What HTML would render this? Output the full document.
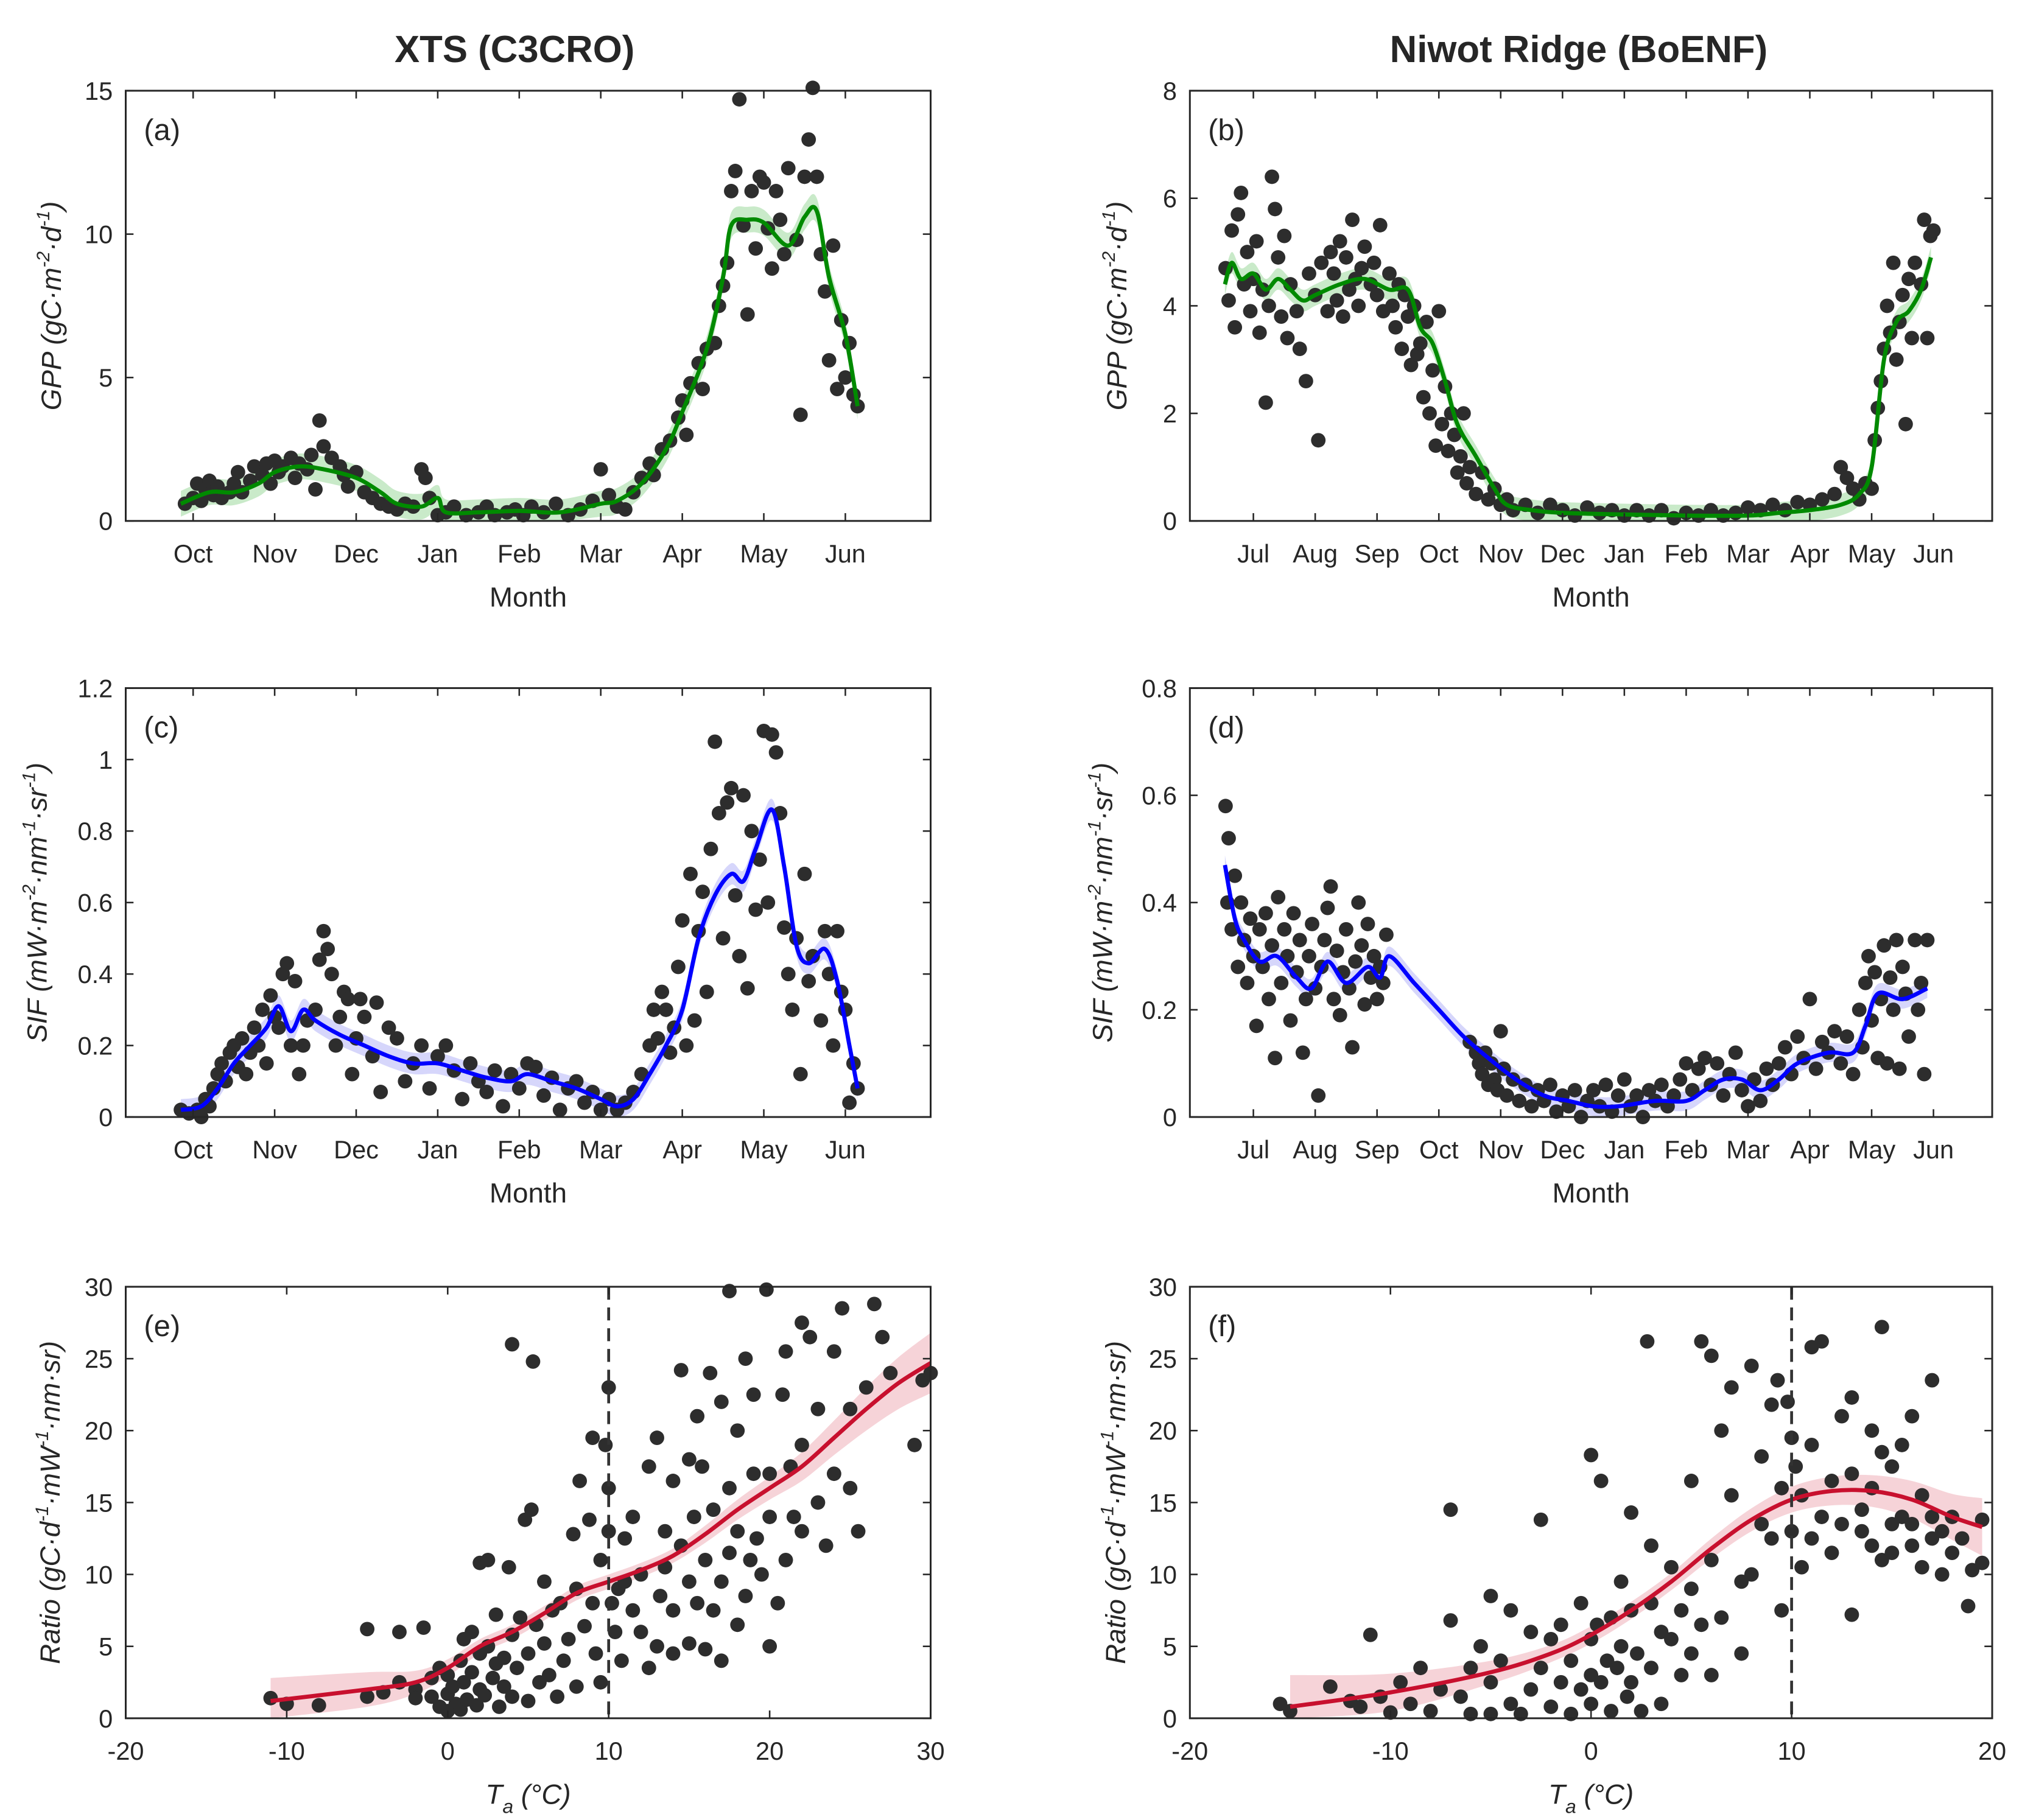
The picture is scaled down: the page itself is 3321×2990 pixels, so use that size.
<!DOCTYPE html>
<html><head><meta charset="utf-8"><style>
html,body{margin:0;padding:0;background:#fff}
svg{display:block}
text{font-family:"Liberation Sans",sans-serif;fill:#262626}
</style></head><body>
<svg id="fig" xmlns="http://www.w3.org/2000/svg" width="3321" height="2990" viewBox="0 0 1560 1404.5"></svg>
<script>
// ---------- DATA ----------
const monthsA = ["Oct","Nov","Dec","Jan","Feb","Mar","Apr","May","Jun"];
const monthsB = ["Jul","Aug","Sep","Oct","Nov","Dec","Jan","Feb","Mar","Apr","May","Jun"];
const yTicksA = [0,5,10,15];
const yTicksB = [0,2,4,6,8];
const yTicksC = [0,0.2,0.4,0.6,0.8,1,1.2];
const yTicksD = [0,0.2,0.4,0.6,0.8];
const yTicksEF = [0,5,10,15,20,25,30];
const xTicksE = [-20,-10,0,10,20,30];
const xTicksF = [-20,-10,0,10,20];

const lineA = [[-0.15,0.6],[0.2,1.0],[0.5,1.0],[0.8,1.3],[1.0,1.7],[1.3,1.9],[1.6,1.8],[2.0,1.5],[2.3,1.0],[2.5,0.6],[2.8,0.5],[3.0,0.8],[3.1,0.3],[3.5,0.3],[4.0,0.35],[4.5,0.3],[5.0,0.6],[5.2,0.7],[5.5,1.3],[5.8,2.5],[6.0,3.8],[6.3,6.0],[6.5,8.5],[6.6,10.3],[6.8,10.5],[7.0,10.4],[7.3,9.6],[7.5,10.6],[7.65,10.8],[7.8,8.5],[8.0,6.5],[8.15,4.0]];
const ptsA = [[-0.1,0.6],[0,0.8],[0.05,1.3],[0.1,0.7],[0.15,1.1],[0.2,1.4],[0.25,0.9],[0.3,1.2],[0.35,0.8],[0.45,1.0],[0.5,1.3],[0.55,1.7],[0.6,1.0],[0.7,1.4],[0.75,1.9],[0.85,1.6],[0.9,2.0],[0.95,1.3],[1.0,2.1],[1.05,1.7],[1.1,1.9],[1.2,2.2],[1.25,1.5],[1.3,2.0],[1.4,1.8],[1.45,2.3],[1.5,1.1],[1.55,3.5],[1.6,2.6],[1.7,2.2],[1.8,1.9],[1.85,1.6],[1.9,1.2],[2.0,1.7],[2.1,1.0],[2.2,0.8],[2.3,0.6],[2.4,0.5],[2.5,0.4],[2.6,0.6],[2.7,0.5],[2.8,1.8],[2.85,1.5],[2.9,0.8],[3.0,0.2],[3.1,0.3],[3.2,0.5],[3.35,0.2],[3.5,0.3],[3.6,0.5],[3.7,0.2],[3.85,0.3],[3.95,0.4],[4.05,0.2],[4.15,0.5],[4.3,0.3],[4.45,0.6],[4.6,0.2],[4.75,0.4],[4.9,0.7],[5.0,1.8],[5.1,0.9],[5.2,0.5],[5.3,0.4],[5.4,1.0],[5.5,1.5],[5.6,2.0],[5.65,1.6],[5.75,2.5],[5.85,2.8],[5.95,3.6],[6.0,4.2],[6.05,3.0],[6.1,4.8],[6.2,5.5],[6.25,4.6],[6.3,6.0],[6.4,6.2],[6.45,7.5],[6.5,8.2],[6.55,9.0],[6.6,11.5],[6.65,12.2],[6.7,14.7],[6.75,10.3],[6.8,7.2],[6.85,11.5],[6.9,9.5],[6.95,12.0],[7.0,11.8],[7.05,10.2],[7.1,8.8],[7.15,11.5],[7.2,10.5],[7.25,9.3],[7.3,12.3],[7.4,9.8],[7.45,3.7],[7.5,12.0],[7.55,13.3],[7.6,15.1],[7.65,12.0],[7.7,9.3],[7.75,8.0],[7.8,5.6],[7.85,9.6],[7.9,4.6],[7.95,7.0],[8.0,5.0],[8.05,6.2],[8.1,4.4],[8.15,4.0]];

const lineB = [[-0.46,4.4],[-0.35,4.8],[-0.2,4.5],[0,4.6],[0.2,4.3],[0.4,4.5],[0.6,4.3],[0.8,4.1],[1.0,4.2],[1.4,4.4],[1.8,4.5],[2.2,4.3],[2.5,4.3],[2.7,3.6],[2.9,3.3],[3.1,2.6],[3.3,1.8],[3.6,1.2],[3.9,0.6],[4.1,0.3],[4.5,0.2],[5,0.15],[6,0.12],[7,0.1],[8,0.1],[8.5,0.15],[9,0.2],[9.5,0.3],[9.8,0.5],[10,1.0],[10.2,3.0],[10.4,3.7],[10.6,3.9],[10.8,4.3],[10.96,4.9]];
const ptsB = [[-0.45,4.7],[-0.4,4.1],[-0.35,5.4],[-0.3,3.6],[-0.25,5.7],[-0.2,6.1],[-0.15,4.4],[-0.1,5.0],[-0.05,3.9],[0,4.5],[0.05,5.2],[0.1,3.5],[0.15,4.3],[0.2,2.2],[0.25,4.0],[0.3,6.4],[0.35,5.8],[0.4,4.9],[0.45,3.8],[0.5,5.3],[0.55,3.4],[0.6,4.4],[0.7,3.9],[0.75,3.2],[0.85,2.6],[0.9,4.6],[1.0,4.2],[1.05,1.5],[1.1,4.8],[1.2,3.9],[1.25,5.0],[1.3,4.6],[1.35,4.1],[1.4,5.2],[1.45,3.8],[1.5,4.9],[1.55,4.3],[1.6,5.6],[1.65,4.5],[1.7,4.0],[1.75,4.7],[1.8,5.1],[1.9,4.4],[1.95,4.8],[2.0,4.2],[2.05,5.5],[2.1,3.9],[2.2,4.6],[2.25,4.0],[2.3,3.6],[2.35,4.4],[2.4,3.2],[2.45,4.2],[2.5,3.8],[2.55,2.9],[2.6,4.0],[2.65,3.1],[2.7,3.3],[2.75,2.3],[2.8,3.7],[2.85,2.0],[2.9,2.8],[2.95,1.4],[3.0,3.9],[3.05,1.8],[3.1,2.5],[3.15,1.3],[3.2,2.0],[3.25,1.6],[3.3,0.9],[3.35,1.2],[3.4,2.0],[3.45,0.7],[3.5,1.0],[3.6,0.5],[3.7,0.9],[3.8,0.4],[3.9,0.6],[4.0,0.3],[4.1,0.4],[4.2,0.2],[4.4,0.3],[4.6,0.15],[4.8,0.3],[5.0,0.2],[5.2,0.1],[5.4,0.25],[5.6,0.15],[5.8,0.2],[6.0,0.1],[6.2,0.2],[6.4,0.1],[6.6,0.2],[6.8,0.05],[7.0,0.15],[7.2,0.1],[7.4,0.2],[7.6,0.1],[7.8,0.15],[8.0,0.25],[8.2,0.2],[8.4,0.3],[8.6,0.2],[8.8,0.35],[9.0,0.3],[9.2,0.4],[9.4,0.5],[9.5,1.0],[9.6,0.8],[9.7,0.6],[9.8,0.4],[9.9,0.7],[10.0,0.6],[10.05,1.5],[10.1,2.1],[10.15,2.6],[10.2,3.2],[10.25,4.0],[10.3,3.5],[10.35,4.8],[10.4,3.0],[10.45,3.7],[10.5,4.2],[10.55,1.8],[10.6,4.5],[10.65,3.4],[10.7,4.8],[10.8,4.4],[10.85,5.6],[10.9,3.4],[10.95,5.3],[11.0,5.4]];

const lineC = [[-0.15,0.02],[0.1,0.03],[0.3,0.08],[0.5,0.15],[0.7,0.2],[0.9,0.25],[1.05,0.31],[1.2,0.24],[1.35,0.3],[1.5,0.27],[1.8,0.23],[2.1,0.2],[2.4,0.17],[2.7,0.15],[3.0,0.15],[3.3,0.13],[3.6,0.11],[3.9,0.1],[4.1,0.12],[4.4,0.1],[4.7,0.08],[5.0,0.05],[5.2,0.03],[5.4,0.05],[5.6,0.12],[5.8,0.2],[6.0,0.3],[6.2,0.5],[6.4,0.62],[6.6,0.68],[6.75,0.66],[6.9,0.75],[7.1,0.86],[7.25,0.7],[7.4,0.48],[7.55,0.43],[7.75,0.47],[7.9,0.38],[8.05,0.2],[8.15,0.08]];
const ptsC = [[-0.15,0.02],[-0.05,0.01],[0.05,0.02],[0.1,0.0],[0.15,0.05],[0.2,0.03],[0.25,0.08],[0.3,0.12],[0.35,0.15],[0.4,0.1],[0.45,0.18],[0.5,0.2],[0.55,0.14],[0.6,0.22],[0.65,0.12],[0.7,0.18],[0.75,0.25],[0.8,0.2],[0.85,0.3],[0.9,0.15],[0.95,0.34],[1.0,0.28],[1.05,0.25],[1.1,0.4],[1.15,0.43],[1.2,0.2],[1.25,0.38],[1.3,0.12],[1.35,0.2],[1.4,0.27],[1.5,0.3],[1.55,0.44],[1.6,0.52],[1.65,0.47],[1.7,0.4],[1.75,0.2],[1.8,0.28],[1.85,0.35],[1.9,0.33],[1.95,0.12],[2.0,0.22],[2.05,0.33],[2.1,0.28],[2.2,0.17],[2.25,0.32],[2.3,0.07],[2.4,0.25],[2.5,0.22],[2.6,0.1],[2.7,0.15],[2.8,0.2],[2.9,0.08],[3.0,0.17],[3.1,0.2],[3.2,0.13],[3.3,0.05],[3.4,0.15],[3.5,0.1],[3.6,0.07],[3.7,0.13],[3.8,0.03],[3.9,0.12],[4.0,0.08],[4.1,0.15],[4.2,0.14],[4.3,0.06],[4.4,0.11],[4.5,0.02],[4.6,0.08],[4.7,0.1],[4.8,0.04],[4.9,0.07],[5.0,0.02],[5.1,0.05],[5.2,0.02],[5.3,0.04],[5.4,0.07],[5.5,0.12],[5.6,0.2],[5.65,0.3],[5.7,0.22],[5.75,0.35],[5.8,0.3],[5.85,0.18],[5.9,0.25],[5.95,0.42],[6.0,0.55],[6.05,0.2],[6.1,0.68],[6.15,0.27],[6.2,0.52],[6.25,0.63],[6.3,0.35],[6.35,0.75],[6.4,1.05],[6.45,0.85],[6.5,0.5],[6.55,0.88],[6.6,0.92],[6.65,0.62],[6.7,0.45],[6.75,0.9],[6.8,0.36],[6.85,0.8],[6.9,0.58],[6.95,0.72],[7.0,1.08],[7.05,0.6],[7.1,1.07],[7.15,1.02],[7.2,0.85],[7.25,0.53],[7.3,0.4],[7.35,0.3],[7.4,0.5],[7.45,0.12],[7.5,0.68],[7.55,0.38],[7.6,0.45],[7.7,0.27],[7.75,0.52],[7.8,0.4],[7.85,0.2],[7.9,0.52],[7.95,0.35],[8.0,0.3],[8.05,0.04],[8.1,0.15],[8.15,0.08]];

const lineD = [[-0.46,0.47],[-0.3,0.37],[-0.15,0.33],[0.1,0.29],[0.38,0.3],[0.7,0.26],[0.94,0.24],[1.2,0.29],[1.5,0.25],[1.85,0.28],[2.05,0.26],[2.2,0.3],[2.6,0.25],[3.0,0.2],[3.4,0.15],[3.8,0.11],[4.25,0.07],[4.7,0.04],[5.1,0.03],[5.5,0.02],[5.9,0.02],[6.5,0.03],[7.0,0.03],[7.3,0.05],[7.6,0.07],[7.9,0.07],[8.2,0.05],[8.5,0.07],[8.8,0.1],[9.3,0.12],[9.7,0.12],[9.9,0.17],[10.1,0.23],[10.5,0.22],[10.9,0.24]];
const ptsD = [[-0.45,0.58],[-0.4,0.52],[-0.42,0.4],[-0.35,0.35],[-0.3,0.45],[-0.25,0.28],[-0.2,0.4],[-0.15,0.33],[-0.1,0.25],[-0.05,0.37],[0,0.3],[0.05,0.17],[0.1,0.35],[0.15,0.28],[0.2,0.38],[0.25,0.22],[0.3,0.32],[0.35,0.11],[0.4,0.41],[0.45,0.25],[0.5,0.35],[0.55,0.3],[0.6,0.18],[0.65,0.38],[0.7,0.27],[0.75,0.33],[0.8,0.12],[0.85,0.22],[0.9,0.3],[0.95,0.36],[1.0,0.24],[1.05,0.04],[1.1,0.28],[1.15,0.33],[1.2,0.39],[1.25,0.43],[1.3,0.22],[1.35,0.31],[1.4,0.19],[1.45,0.27],[1.5,0.35],[1.55,0.24],[1.6,0.13],[1.65,0.29],[1.7,0.4],[1.75,0.32],[1.8,0.21],[1.85,0.36],[1.9,0.26],[1.95,0.3],[2.0,0.22],[2.05,0.28],[2.1,0.25],[2.15,0.34],[3.5,0.14],[3.6,0.12],[3.65,0.1],[3.7,0.08],[3.75,0.12],[3.8,0.06],[3.85,0.1],[3.9,0.07],[3.95,0.05],[4.0,0.16],[4.05,0.09],[4.1,0.04],[4.2,0.07],[4.3,0.03],[4.4,0.06],[4.5,0.02],[4.6,0.05],[4.7,0.03],[4.8,0.06],[4.9,0.01],[5.0,0.04],[5.1,0.02],[5.2,0.05],[5.3,0.0],[5.4,0.03],[5.5,0.05],[5.6,0.02],[5.7,0.06],[5.8,0.01],[5.9,0.04],[6.0,0.07],[6.1,0.02],[6.2,0.04],[6.3,0.0],[6.4,0.05],[6.5,0.03],[6.6,0.06],[6.7,0.02],[6.8,0.04],[6.9,0.07],[7.0,0.1],[7.1,0.05],[7.2,0.09],[7.3,0.11],[7.4,0.06],[7.5,0.1],[7.6,0.04],[7.7,0.08],[7.8,0.12],[7.9,0.05],[8.0,0.02],[8.1,0.07],[8.2,0.03],[8.3,0.09],[8.4,0.06],[8.5,0.1],[8.6,0.13],[8.7,0.08],[8.8,0.15],[8.9,0.11],[9.0,0.22],[9.1,0.09],[9.2,0.14],[9.3,0.12],[9.4,0.16],[9.5,0.1],[9.6,0.15],[9.7,0.08],[9.8,0.2],[9.85,0.13],[9.9,0.25],[9.95,0.3],[10.0,0.18],[10.05,0.27],[10.1,0.11],[10.15,0.22],[10.2,0.32],[10.25,0.1],[10.3,0.26],[10.35,0.2],[10.4,0.33],[10.45,0.09],[10.5,0.28],[10.55,0.23],[10.6,0.15],[10.7,0.33],[10.75,0.2],[10.8,0.25],[10.85,0.08],[10.9,0.33]];

const fitE = [[-11,1.2],[-5,2],[-2,2.5],[0,3.5],[2,5],[4,6],[6,7.3],[8,8.7],[10,9.5],[12,10.3],[14,11.3],[16,12.8],[18,14.5],[20,16],[22,17.5],[24,19.5],[26,21.5],[28,23.3],[30,24.7]];
const bandE = [1.6,1.2,0.8,0.6,0.5,0.5,0.5,0.5,0.5,0.5,0.5,0.6,0.7,0.8,1.0,1.2,1.5,1.8,2.1];
const ptsE = [[-11,1.4],[-10,1],[-8,0.9],[-5,1.5],[-5,6.2],[-4,1.8],[-3,2.5],[-3,6],[-2,2],[-2,1.4],[-1.5,6.3],[-1,2.8],[-1,1.5],[-0.5,3.5],[-0.5,0.8],[0,0.5],[0,1.7],[0,3],[0.3,2.2],[0.5,1],[0.8,4],[0.8,0.6],[1,2.5],[1,5.5],[1.2,1.3],[1.5,6],[1.5,3.2],[1.8,0.9],[2,2],[2,4.5],[2,10.8],[2.3,1.6],[2.5,11],[2.5,5],[2.8,2.8],[3,3.8],[3,7.2],[3.2,0.8],[3.5,4.2],[3.5,2.2],[3.8,10.5],[4,26],[4,5.8],[4,1.5],[4.3,3.5],[4.5,7],[4.8,13.8],[5,4.5],[5,1.2],[5.2,14.5],[5.3,24.8],[5.5,6.5],[5.7,2.5],[6,5.2],[6,9.5],[6.3,3],[6.5,7.5],[6.8,1.5],[7,8],[7.2,4],[7.5,5.5],[7.8,12.8],[8,2.2],[8,9],[8.2,16.5],[8.5,6.4],[8.8,13.8],[9,19.5],[9,8],[9.2,4.5],[9.5,2.5],[9.5,11],[9.8,19],[10,23],[10,16],[10,13],[10.2,8],[10.4,6],[10.6,9],[10.8,4],[11,12.5],[11,9.5],[11.5,14],[11.5,7.5],[12,6],[12,10],[12.5,17.5],[12.5,3.5],[13,19.5],[13,5],[13.2,8.5],[13.5,13],[13.5,10.5],[14,16.5],[14,4.5],[14,7.5],[14.5,24.2],[14.5,12],[15,18],[15,5.2],[15,9.5],[15.3,14],[15.5,21],[15.5,8],[15.8,17.5],[16,4.8],[16,11],[16.3,24],[16.5,7.5],[16.5,14.5],[17,22],[17,9.5],[17,4],[17.5,29.7],[17.5,16],[17.5,11.5],[18,6.5],[18,13],[18,20],[18.5,25],[18.5,8.5],[18.8,11],[19,17],[19,22.5],[19.2,12.5],[19.5,10],[19.8,29.8],[20,5],[20,17],[20,14],[20.5,8],[20.8,22.5],[21,25.5],[21,11],[21.3,17.5],[21.5,14],[22,27.5],[22,13],[22,19],[22.5,26.5],[23,15],[23,21.5],[23.5,12],[24,25.5],[24,17],[24.5,28.5],[25,21.5],[25,16],[25.5,13],[26,23],[26.5,28.8],[27,26.5],[27.5,24],[29,19],[29.5,23.5],[30,24]];

const fitF = [[-15,0.8],[-10,1.8],[-5,3.2],[-2,4.5],[0,5.8],[2,7.5],[4,9.5],[6,11.8],[8,13.8],[10,15.2],[12,15.8],[14,15.8],[16,15.2],[18,14],[19.5,13.3]];
const bandF = [2.2,1.3,0.8,0.6,0.6,0.6,0.6,0.7,0.8,0.9,1.0,1.1,1.3,1.6,2.0];
const ptsF = [[-15.5,1],[-15,0.5],[-13,2.2],[-12,1.2],[-11.5,0.8],[-11,5.8],[-10.5,1.5],[-10,0.4],[-9.5,2.5],[-9,1],[-8.5,3.5],[-8,0.5],[-7.5,2],[-7,14.5],[-7,6.8],[-6.5,1.5],[-6,3.5],[-6,0.3],[-5.5,5],[-5,8.5],[-5,2.5],[-5,0.3],[-4.5,4],[-4,7.5],[-4,1],[-3.5,0.3],[-3,6],[-3,2],[-2.5,13.8],[-2.5,3.5],[-2,5.5],[-2,0.8],[-1.5,2.5],[-1.5,6.5],[-1,4],[-1,0.3],[-0.5,8],[-0.5,2],[0,18.3],[0,5.5],[0,3],[0,1],[0.3,6.5],[0.5,16.5],[0.5,2.5],[0.8,4],[1,7],[1,0.5],[1.3,3.5],[1.5,9.5],[1.5,5],[1.8,1.5],[2,14.3],[2,7.5],[2,2.5],[2.3,4.5],[2.5,0.5],[2.8,26.2],[3,8],[3,3.5],[3,12],[3.5,6],[3.5,1],[4,5.5],[4,10.5],[4.5,7.5],[4.5,3],[5,16.5],[5,4.5],[5,9],[5.5,26.2],[5.5,6.5],[6,25.2],[6,3],[6,11],[6.5,7],[6.5,20],[7,15.5],[7,23],[7.5,9.5],[7.5,4.5],[8,24.5],[8,10],[8.5,18.2],[8.5,13.5],[9,21.8],[9,12.5],[9.3,23.5],[9.5,7.5],[9.5,16],[9.8,22],[10,19.5],[10,13],[10.2,17.5],[10.5,15.5],[10.5,10.5],[11,12.5],[11,19],[11,25.8],[11.5,14],[11.5,26.2],[12,16.5],[12,11.5],[12.5,21],[12.5,13.5],[13,7.2],[13,22.3],[13,17],[13.5,13],[13.5,14.5],[14,20],[14,12],[14,16],[14.5,27.2],[14.5,18.5],[14.5,11],[15,13.5],[15,17.5],[15,11.5],[15.5,19],[15.5,14],[16,21],[16,12],[16,13.5],[16.5,15.5],[16.5,10.5],[17,23.5],[17,14],[17,12.5],[17.5,13],[17.5,10],[18,14],[18,11.5],[18.5,12.5],[18.8,7.8],[19,10.3],[19.5,13.8],[19.5,10.8]];

// ---------- DRAW ----------
const NS = "http://www.w3.org/2000/svg";
const svg = document.getElementById('fig');
function mk(tag, attrs, parent){
  const e = document.createElementNS(NS, tag);
  for (const k in attrs) e.setAttribute(k, attrs[k]);
  (parent||svg).appendChild(e);
  return e;
}
function smoothPath(p){
  let d = "M"+p[0][0].toFixed(2)+","+p[0][1].toFixed(2);
  for (let i=0;i<p.length-1;i++){
    const p0=p[Math.max(0,i-1)],p1=p[i],p2=p[i+1],p3=p[Math.min(p.length-1,i+2)];
    const c1x=p1[0]+(p2[0]-p0[0])/6,c1y=p1[1]+(p2[1]-p0[1])/6;
    const c2x=p2[0]-(p3[0]-p1[0])/6,c2y=p2[1]-(p3[1]-p1[1])/6;
    d+=" C"+c1x.toFixed(2)+","+c1y.toFixed(2)+" "+c2x.toFixed(2)+","+c2y.toFixed(2)+" "+p2[0].toFixed(2)+","+p2[1].toFixed(2);
  }
  return d;
}
function smoothSeg(p){ return smoothPath(p).replace(/^M[^ ]+/, "L"+p[0][0].toFixed(2)+","+p[0][1].toFixed(2)); }

function panel(cfg){
  const g = mk('g', {});
  
  
  const {x0,x1,y0,y1,xmin,xmax,ymin,ymax} = cfg;
  const sx = v => x0 + (v - xmin) / (xmax - xmin) * (x1 - x0);
  const sy = v => y1 - (v - ymin) / (ymax - ymin) * (y1 - y0);
  // band
  const up = cfg.line.map((p,i)=>[sx(p[0]), sy(p[1] + cfg.band[i])]);
  const lo = cfg.line.map((p,i)=>[sx(p[0]), sy(Math.max(ymin, p[1] - cfg.band[i]))]).reverse();
  const band = mk('path', {d: smoothPath(up)+" "+smoothSeg(lo)+" Z", fill: cfg.bandColor, stroke:'none'}, g);
  
  
  // points
  const pg = mk('g', {fill:'#2d2d2d'}, g);
  
  
  cfg.pts.forEach(p=>{
    const c = mk('circle', {cx: sx(p[0]).toFixed(2), cy: sy(p[1]).toFixed(2), r: 5.6}, pg);
    
    
  });
  // line
  const ln = mk('path', {d: smoothPath(cfg.line.map(p=>[sx(p[0]),sy(p[1])])), fill:'none', stroke: cfg.lineColor, 'stroke-width': 3.2, 'stroke-linejoin':'round'}, g);
  
  
  if (cfg.vline !== undefined){
    const v = mk('line', {x1: sx(cfg.vline), x2: sx(cfg.vline), y1: y0, y2: y1, stroke:'#333', 'stroke-width':2.2, 'stroke-dasharray':'10,6'}, g);
    
    
  }
  // frame
  const fr = mk('rect', {x:x0, y:y0, width:x1-x0, height:y1-y0, fill:'none', stroke:'#262626', 'stroke-width':1.4}, g);
  
  
  // x ticks
  cfg.xticks.forEach((t,i)=>{
    const X = sx(t);
    mk('line', {x1:X,x2:X,y1:y1,y2:y1-6,stroke:'#262626','stroke-width':1.2}, g);
    mk('line', {x1:X,x2:X,y1:y0,y2:y0+6,stroke:'#262626','stroke-width':1.2}, g);
    const tx = mk('text', {x:X, y:y1+32, 'font-size':19.5, 'text-anchor':'middle'}, g);
    tx.textContent = cfg.xlabels[i];
    
    
  });
  cfg.yticks.forEach(t=>{
    const Y = sy(t);
    mk('line', {x1:x0,x2:x0+6,y1:Y,y2:Y,stroke:'#262626','stroke-width':1.2}, g);
    mk('line', {x1:x1,x2:x1-6,y1:Y,y2:Y,stroke:'#262626','stroke-width':1.2}, g);
    const ty = mk('text', {x:x0-10, y:Y+7, 'font-size':19.5, 'text-anchor':'end'}, g);
    ty.textContent = String(t);
    
    
  });
  const pl = mk('text', {x:x0+14, y:y0+38, 'font-size':23}, g);
  pl.textContent = cfg.tag;
  
  
  // x label
  const xl = mk('text', {x:(x0+x1)/2, y:y1+66, 'font-size':21.5, 'text-anchor':'middle'}, g);
  
  
  if (cfg.xtitle === 'Ta'){
    xl.setAttribute('font-style','italic');
    xl.innerHTML = 'T<tspan font-size="15" dy="7">a</tspan><tspan dy="-7"> (°C)</tspan>';
  } else xl.textContent = cfg.xtitle;
  // y label
  const yl = mk('text', {x:0, y:0, 'font-size':21.5, 'text-anchor':'middle', 'font-style':'italic', transform:`translate(${cfg.ylx},${(y0+y1)/2}) rotate(-90)`}, g);
  
  
  yl.innerHTML = cfg.ytitle;
}

const sup = s => `<tspan font-size="14" dy="-9">${s}</tspan><tspan dy="9">`;
const gppT = `GPP (gC·m${sup('-2')}·d</tspan>${sup('-1')})</tspan>`;
const sifT = `SIF (mW·m${sup('-2')}·nm</tspan>${sup('-1')}·sr</tspan>${sup('-1')})</tspan>`;
const ratT = `Ratio (gC·d${sup('-1')}·mW</tspan>${sup('-1')}·nm·sr)</tspan>`;

const mA = monthsA.map((m,i)=>i), mB = monthsB.map((m,i)=>i);
const xA = {xmin:(97-149)/62.9, xmax:(718-149)/62.9};
const xB = {xmin:(918-967)/47.7, xmax:(1537-967)/47.7};

panel(Object.assign({name:'panel-a-gpp-xts', tag:'(a)', x0:97,x1:718,y0:70,y1:402, ymin:0,ymax:15, line:lineA, band:lineA.map(()=>0.45), pts:ptsA, lineColor:'#008a00', bandColor:'rgba(60,180,60,0.28)', xticks:mA, xlabels:monthsA, yticks:yTicksA, xtitle:'Month', ytitle:gppT, ylx:47}, xA));
panel(Object.assign({name:'panel-b-gpp-niwot', tag:'(b)', x0:918,x1:1537,y0:70,y1:402, ymin:0,ymax:8, line:lineB, band:lineB.map(()=>0.2), pts:ptsB, lineColor:'#008a00', bandColor:'rgba(60,180,60,0.28)', xticks:mB, xlabels:monthsB, yticks:yTicksB, xtitle:'Month', ytitle:gppT, ylx:869}, xB));
panel(Object.assign({name:'panel-c-sif-xts', tag:'(c)', x0:97,x1:718,y0:531,y1:862, ymin:0,ymax:1.2, line:lineC, band:lineC.map(()=>0.03), pts:ptsC, lineColor:'#0000ff', bandColor:'rgba(90,90,240,0.25)', xticks:mA, xlabels:monthsA, yticks:yTicksC, xtitle:'Month', ytitle:sifT, ylx:36}, xA));
panel(Object.assign({name:'panel-d-sif-niwot', tag:'(d)', x0:918,x1:1537,y0:531,y1:862, ymin:0,ymax:0.8, line:lineD, band:lineD.map(()=>0.018), pts:ptsD, lineColor:'#0000ff', bandColor:'rgba(90,90,240,0.25)', xticks:mB, xlabels:monthsB, yticks:yTicksD, xtitle:'Month', ytitle:sifT, ylx:858}, xB));
panel({name:'panel-e-ratio-xts', tag:'(e)', x0:97,x1:718,y0:993,y1:1326, xmin:-20,xmax:30, ymin:0,ymax:30, line:fitE, band:bandE, pts:ptsE, lineColor:'#c8102e', bandColor:'rgba(220,80,100,0.25)', xticks:xTicksE, xlabels:xTicksE.map(String), yticks:yTicksEF, xtitle:'Ta', ytitle:ratT, ylx:46, vline:10});
panel({name:'panel-f-ratio-niwot', tag:'(f)', x0:918,x1:1537,y0:993,y1:1326, xmin:-20,xmax:20, ymin:0,ymax:30, line:fitF, band:bandF, pts:ptsF, lineColor:'#c8102e', bandColor:'rgba(220,80,100,0.25)', xticks:xTicksF, xlabels:xTicksF.map(String), yticks:yTicksEF, xtitle:'Ta', ytitle:ratT, ylx:868, vline:10});

const t1 = mk('text', {x:397, y:48, 'font-size':29, 'font-weight':'bold', 'text-anchor':'middle', fill:'#000'});
t1.textContent = 'XTS (C3CRO)';


const t2 = mk('text', {x:1218, y:48, 'font-size':29, 'font-weight':'bold', 'text-anchor':'middle', fill:'#000'});
t2.textContent = 'Niwot Ridge (BoENF)';


</script>
</body></html>
